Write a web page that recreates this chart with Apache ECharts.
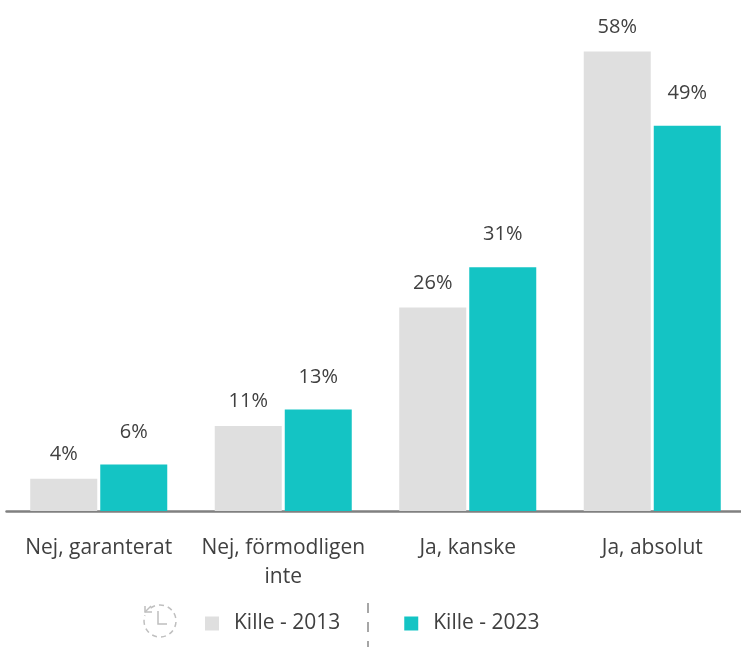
<!DOCTYPE html>
<html>
<head>
<meta charset="utf-8">
<style>
  html, body { margin: 0; padding: 0; background: #fff; }
  #main { width: 741px; height: 647px; }
</style>
<script src="https://cdn.jsdelivr.net/npm/echarts@6/dist/echarts.min.js"></script>
</head>
<body>
<div id="main"></div>
<script>
var categories = ['Nej, garanterat', 'Nej, förmodligen\ninte', 'Ja, kanske', 'Ja, absolut']
var killar2013 = [4.1, 10.8, 25.9, 58.45]
var killar2023 = [5.9, 12.9, 31, 49]
var name2013 = 'Kille - 2013'
var name2023 = 'Kille - 2023'

var textColor = '#404040'
var fontName = 'Open Sans'

var myChart = echarts.init(document.getElementById('main'))

function barLabel(dist) {
  return {
    show: true,
    position: 'top',
    distance: dist,
    color: textColor,
    fontFamily: fontName,
    fontSize: 20,
    formatter: function (p) { return Math.round(p.value) + '%' }
  }
}

var option = {
  animation: false,
  grid: { left: 6.5, top: 0, width: 738, height: 511, outerBoundsMode: 'none' },
  legend: {
    left: 205,
    top: 613,
    padding: 0,
    itemWidth: 14,
    itemHeight: 14,
    itemGap: 64,
    icon: 'rect',
    textStyle: { color: textColor, fontFamily: fontName, fontSize: 21, padding: [0, 0, 0, 10] },
    data: [name2013, name2023]
  },
  xAxis: {
    type: 'category',
    data: categories,
    axisLine: { lineStyle: { color: '#808080', width: 2.5 } },
    axisTick: { show: false },
    axisLabel: {
      color: textColor,
      fontFamily: fontName,
      fontSize: 21,
      lineHeight: 29,
      margin: 23,
      interval: 0
    }
  },
  yAxis: { type: 'value', min: 0, max: 65, show: false },
  series: [
    {
      name: name2013,
      type: 'bar',
      data: killar2013,
      barWidth: 67,
      barGap: '4.5%',
      itemStyle: { color: '#DFDFDF' },
      label: barLabel(14.5)
    },
    {
      name: name2023,
      type: 'bar',
      data: killar2023,
      barWidth: 67,
      itemStyle: { color: '#14C4C4' },
      label: barLabel(22.5)
    }
  ],
  // klockikonen och den streckade avdelaren i legenden
  graphic: [
    {
      type: 'line',
      shape: { x1: 368, y1: 603, x2: 368, y2: 648 },
      style: { stroke: '#A6A6A6', lineWidth: 2, lineDash: [10, 9] }
    },
    {
      type: 'arc',
      shape: { cx: 160, cy: 621, r: 16, startAngle: -2.2, endAngle: 3.5 },
      style: { stroke: '#BFBFBF', lineWidth: 1.5, lineDash: [5, 4], fill: 'none' }
    },
    {
      type: 'polyline',
      shape: { points: [[158, 611], [158, 624], [167, 624]] },
      style: { stroke: '#BFBFBF', lineWidth: 1.5, fill: 'none' }
    },
    {
      type: 'polyline',
      shape: { points: [[145, 606], [145, 612], [152, 612]] },
      style: { stroke: '#BFBFBF', lineWidth: 1.5, fill: 'none' }
    },
    {
      type: 'line',
      shape: { x1: 145, y1: 612, x2: 151, y2: 606 },
      style: { stroke: '#BFBFBF', lineWidth: 1.5 }
    }
  ]
}

myChart.setOption(option)
</script>
</body>
</html>
